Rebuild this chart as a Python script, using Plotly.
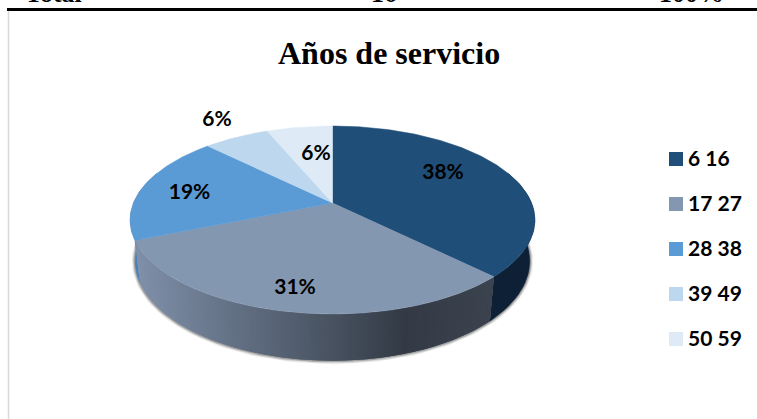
import math
import plotly.graph_objects as go

# ---------- data ----------
categories = ["6 16", "17 27", "28 38", "39 49", "50 59"]
counts = [6, 5, 3, 1, 1]
header_labels = ["Total", "16", "100%"]
chart_title = "Años de servicio"

# ---------- style ----------
colors = ["#1f4e79", "#8497b0", "#5b9bd5", "#bdd7ee", "#deebf7"]
wall_colors = {0: "#0d2035", 2: "#4a7fb5", 3: "#4a7fb5", 4: "#4a7fb5"}
W, H = 757, 419
CX, CY = 332.5, 203.0      # apex of the pie in the picture
A, B, K = 199.0, 90.9, 0.181   # perspective of the tilted disc
SX, SY, OFF = 0.975, 1.06, 40.0  # lower rim of the wall
label_font = "Lato, 'Open Sans', sans-serif"
serif = "'Liberation Serif', serif"

total = sum(counts)
percent = [round(100 * c / total) for c in counts]


def project(theta, r=1.0):
    u, v = r * math.sin(theta), r * math.cos(theta)
    w = 1 + K * v
    return A * u / w, B * v / w


def top(theta, r=1.0):
    x, y = project(theta, r)
    return CX + x, CY - y


def rim(theta):
    x, y = project(theta)
    return CX + SX * x, CY - SY * y + OFF


def lerp_hex(a, b, t):
    pa = [int(a[i:i + 2], 16) for i in (1, 3, 5)]
    pb = [int(b[i:i + 2], 16) for i in (1, 3, 5)]
    return "rgb(%d,%d,%d)" % tuple(round(p + (q - p) * t) for p, q in zip(pa, pb))


def gray_wall(x):
    if x < 405:
        return lerp_hex("#7f90a9", "#333a45", max(0, (x - 135) / 270))
    return lerp_hex("#333a45", "#3b434e", min(1, (x - 405) / 85))


def add_poly(fig, pts, col, lw=0.5, name=None):
    xs = [p[0] for p in pts] + [pts[0][0]]
    ys = [p[1] for p in pts] + [pts[0][1]]
    fig.add_trace(go.Scatter(x=xs, y=ys, mode="lines", fill="toself", fillcolor=col,
                             line=dict(color=col, width=lw), name=name,
                             hoverinfo="skip", showlegend=False))


cum = [0]
for c in counts:
    cum.append(cum[-1] + c)
edges = [2 * math.pi * c / total for c in cum]

fig = go.Figure()

# soft shadow under the rim
lower = [math.pi / 2 + math.pi * i / 200 for i in range(201)]
for width, alpha in [(7, 0.08), (5, 0.14), (3, 0.25)]:
    pts = [rim(t) for t in lower]
    fig.add_trace(go.Scatter(x=[p[0] for p in pts], y=[p[1] for p in pts], mode="lines",
                             line=dict(color=f"rgba(30,30,30,{alpha})", width=width),
                             hoverinfo="skip", showlegend=False))

# outer wall: flat pieces for the dark and blue slices, shaded strips for the gray one
for i in [0, 2]:
    n = 60
    ts = [edges[i] + (edges[i + 1] - edges[i]) * j / n for j in range(n + 1)]
    ts = [t for t in ts if math.cos(t) < 0.35]
    add_poly(fig, [top(t) for t in ts] + [rim(t) for t in reversed(ts)], wall_colors[i])

i = 1
n = 150
for j in range(n, 0, -1):
    t0 = edges[i] + (edges[i + 1] - edges[i]) * (j - 1) / n
    t1 = edges[i] + (edges[i + 1] - edges[i]) * j / n
    b, c = top(t1), rim(t1)
    col = gray_wall((top(t0)[0] + b[0]) / 2)
    # strips are laid from right to left; each overlaps the next
    tn = max(edges[i], t0 - (t1 - t0))
    add_poly(fig, [top(tn), b, c, rim(tn)], col, lw=0)

# top face of the pie
for i, cat in enumerate(categories):
    n = max(8, counts[i] * 30)
    pts = [(CX, CY)] + [top(edges[i] + (edges[i + 1] - edges[i]) * j / n) for j in range(n + 1)]
    add_poly(fig, pts, colors[i], name=cat)

# percentage labels
label_xy = [(443, 174), (295, 289), (189.5, 194), (217, 121), (316, 155)]
fig.add_trace(go.Scatter(x=[p[0] for p in label_xy], y=[p[1] for p in label_xy], mode="text",
                         text=[f"{p}%" for p in percent], textposition="middle center",
                         textfont=dict(family=label_font, size=21, color="#000000", weight="bold"),
                         hoverinfo="skip", showlegend=False))

# legend
leg_y = [159 + 45 * i for i in range(len(categories))]
fig.add_trace(go.Scatter(x=[676] * len(categories), y=leg_y, mode="markers",
                         marker=dict(symbol="square", size=14, color=colors, line=dict(width=0)),
                         hoverinfo="skip", showlegend=False))
fig.add_trace(go.Scatter(x=[688] * len(categories), y=[v + 1.5 for v in leg_y], mode="text", text=categories,
                         textposition="middle right",
                         textfont=dict(family=label_font, size=21, color="#000000", weight="bold"),
                         hoverinfo="skip", showlegend=False))

# title and clipped table row above
annots = [dict(x=388.5, y=53, text=f"<b>{chart_title}</b>", showarrow=False,
               font=dict(family=serif, size=32, color="#000000"))]
for txt, xc in zip(header_labels, [53.5, 383.5, 691]):
    annots.append(dict(x=xc, y=0, yshift=6.5, text=f"<b>{txt}</b>", showarrow=False,
                       font=dict(family=serif, size=26, color="#000000")))

shapes = [
    dict(type="line", x0=7, x1=W, y0=9.5, y1=9.5, line=dict(color="#000000", width=3.2)),
    dict(type="line", x0=8.5, x1=8.5, y0=11, y1=H, line=dict(color="#d9d9d9", width=1.5)),
]

fig.update_layout(
    width=W, height=H, margin=dict(l=0, r=0, t=0, b=0),
    paper_bgcolor="#ffffff", plot_bgcolor="#ffffff", showlegend=False,
    xaxis=dict(range=[0, W], visible=False, fixedrange=True),
    yaxis=dict(range=[H, 0], visible=False, fixedrange=True),
    annotations=annots, shapes=shapes,
)
fig.write_html("out.html", config={"displayModeBar": False},
               post_script="document.body.style.margin='0';document.body.style.overflow='hidden';")
